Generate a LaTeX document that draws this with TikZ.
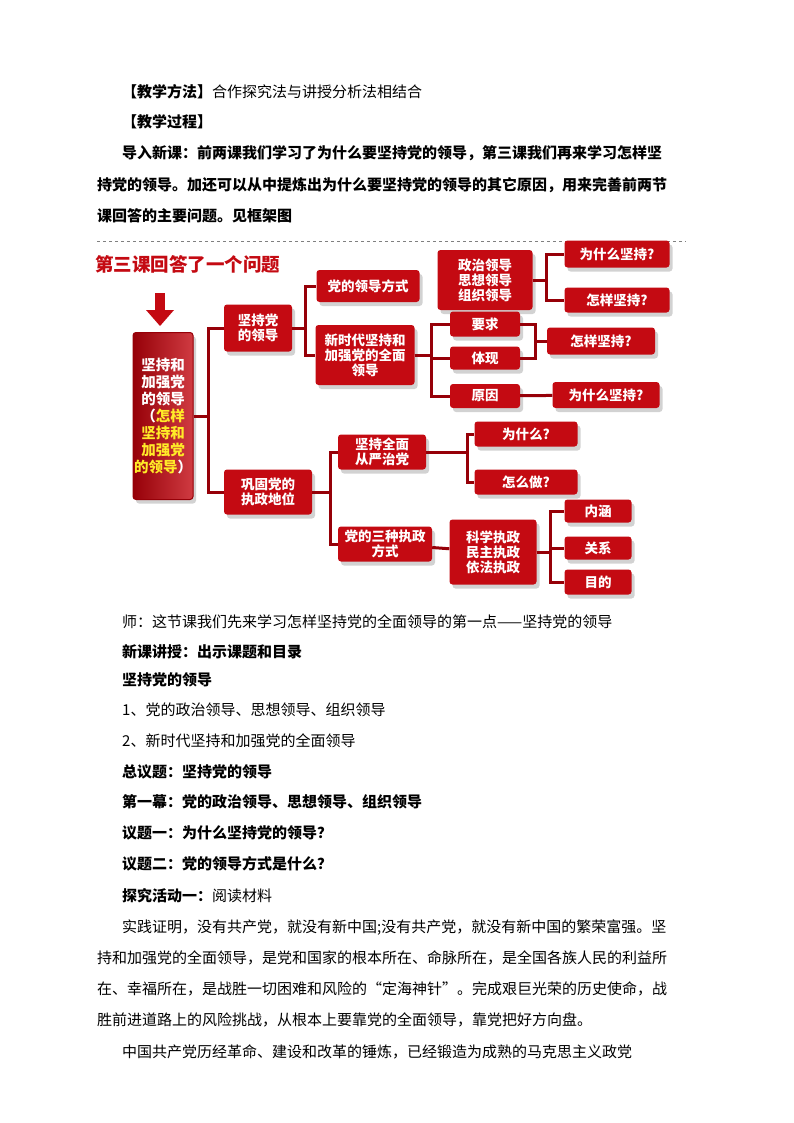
\documentclass[tikz,border=0pt]{standalone}
\usepackage{fontspec}
\setmainfont{Noto Sans CJK SC}
\usetikzlibrary{shadows}
\definecolor{boxred}{RGB}{196,10,18}
\definecolor{brkred}{RGB}{150,0,8}
\definecolor{hlyellow}{RGB}{255,235,40}
\tikzset{
  redbox/.style={fill=boxred, rounded corners=3pt, text=white, align=center,
    font=\fontsize{13.5}{15}\selectfont\bfseries, inner sep=1pt,
    drop shadow={shadow xshift=3pt, shadow yshift=-4pt, opacity=.35}},
  brk/.style={brkred, line width=3pt},
  txt/.style={anchor=west, inner sep=0pt, font=\fontsize{15}{18}\selectfont}
}
\begin{document}
\begin{tikzpicture}[x=1pt,y=-1pt]
\useasboundingbox[fill=white] (0,0) rectangle (794,1123);
% heading
\node[txt] (t1) at (122,92) {\textbf{【教学方法】}合作探究法与讲授分析法相结合};
\node[txt] (t2) at (122,122) {\textbf{【教学过程】}};
\node[txt,font=\fontsize{15}{18}\selectfont\bfseries] (t3) at (122,153) {导入新课：前两课我们学习了为什么要坚持党的领导，第三课我们再来学习怎样坚};
\node[txt,font=\fontsize{15}{18}\selectfont\bfseries] (t4) at (97,185) {持党的领导。加还可以从中提炼出为什么要坚持党的领导的其它原因，用来完善前两节};
\node[txt,font=\fontsize{15}{18}\selectfont\bfseries] (t5) at (97,216) {课回答的主要问题。见框架图};
\draw[gray, dashed] (97,241) -- (686,241);

% framework
\node[text=boxred, font=\fontsize{18.5}{20}\selectfont\bfseries, anchor=west, inner sep=0pt] (title) at (95,264) {第三课回答了一个问题};
\fill[boxred] (155,293) rectangle (165,312);
\fill[boxred] (146,310) -- (174,310) -- (160,326) -- cycle;
\node[redbox, font=\fontsize{14.5}{17}\selectfont\bfseries, minimum width=60pt, minimum height=167pt, draw=brkred, line width=1pt,
  left color=brkred, right color=boxred!80!white] (main) at (163,416)
  {坚持和\\加强党\\的领导\\（{\color{hlyellow}怎样}\\{\color{hlyellow}坚持和}\\{\color{hlyellow}加强党}\\{\color{hlyellow}的领导}）};
\node[redbox, minimum width=68pt, minimum height=47pt] (n1) at (258,328) {坚持党\\的领导};
\node[redbox, minimum width=88pt, minimum height=45pt] (n2) at (268,492) {巩固党的\\执政地位};
\node[redbox, minimum width=103pt, minimum height=32pt] (a1) at (368,286) {党的领导方式};
\node[redbox, minimum width=99pt, minimum height=60pt] (a2) at (365,355) {新时代坚持和\\加强党的全面\\领导};
\node[redbox, minimum width=95pt, minimum height=60pt] (b1) at (485,280) {政治领导\\思想领导\\组织领导};
\node[redbox, minimum width=105pt, minimum height=27pt] (c1) at (617,254) {为什么坚持?};
\node[redbox, minimum width=105pt, minimum height=25pt] (c2) at (617,300) {怎样坚持?};
\node[redbox, minimum width=70pt, minimum height=25pt] (b2) at (485,324) {要求};
\node[redbox, minimum width=70pt, minimum height=23pt] (b3) at (485,358) {体现};
\node[redbox, minimum width=70pt, minimum height=24pt] (b4) at (485,396) {原因};
\node[redbox, minimum width=108pt, minimum height=27pt] (c3) at (601,341) {怎样坚持?};
\node[redbox, minimum width=107pt, minimum height=26pt] (c4) at (606,395) {为什么坚持?};
\node[redbox, minimum width=88pt, minimum height=35pt] (a3) at (382,452) {坚持全面\\从严治党};
\node[redbox, minimum width=103pt, minimum height=25pt] (d1) at (526,434) {为什么?};
\node[redbox, minimum width=103pt, minimum height=25pt] (d2) at (526,482) {怎么做?};
\node[redbox, minimum width=94pt, minimum height=35pt] (a4) at (385,544) {党的三种执政\\方式};
\node[redbox, minimum width=87pt, minimum height=65pt] (b5) at (493,552) {科学执政\\民主执政\\依法执政};
\node[redbox, minimum width=67pt, minimum height=23pt] (e1) at (598,511) {内涵};
\node[redbox, minimum width=67pt, minimum height=23pt] (e2) at (598,548) {关系};
\node[redbox, minimum width=67pt, minimum height=25pt] (e3) at (598,582) {目的};
\coordinate (j1) at (535,341);
\foreach \from/\to/\dx in {main/n1/15,main/n2/15,n1/a1/13,n1/a2/13,n2/a3/18,n2/a4/18,
  a2/b2/17,a2/b3/17,a2/b4/17,b1/c1/14,b1/c2/14,a3/d1/41,a3/d2/41,b5/e1/14,b5/e2/14,b5/e3/14}
  \draw[brk] (\from.east) -- +(\dx,0) |- (\to.west);
\draw[brk] (b2.east) -| (j1);
\draw[brk] (b3.east) -| (j1);
\draw[brk] (j1) -- (c3.west);
\draw[brk] (b4) -- (c4);
\draw[brk] (a4) -- (b5);

% body text
\node[txt] (s1) at (122,622) {师：这节课我们先来学习怎样坚持党的全面领导的第一点——坚持党的领导};
\node[txt] (s2) at (122,652) {\textbf{新课讲授：出示课题和目录}};
\node[txt] (s3) at (122,680) {\textbf{坚持党的领导}};
\node[txt] (s4) at (122,710) {1、党的政治领导、思想领导、组织领导};
\node[txt] (s5) at (122,741) {2、新时代坚持和加强党的全面领导};
\node[txt] (s6) at (122,772) {\textbf{总议题：坚持党的领导}};
\node[txt] (s7) at (122,802) {\textbf{第一幕：党的政治领导、思想领导、组织领导}};
\node[txt] (s8) at (122,833) {\textbf{议题一：为什么坚持党的领导？}};
\node[txt] (s9) at (122,864) {\textbf{议题二：党的领导方式是什么？}};
\node[txt] (s10) at (122,896) {\textbf{探究活动一：}阅读材料};
\node[txt] (s11) at (122,928) {实践证明，没有共产党，就没有新中国;没有共产党，就没有新中国的繁荣富强。坚};
\node[txt] (s12) at (97,958) {持和加强党的全面领导，是党和国家的根本所在、命脉所在，是全国各族人民的利益所};
\node[txt] (s13) at (97,989) {在、幸福所在，是战胜一切困难和风险的“定海神针”。完成艰巨光荣的历史使命，战};
\node[txt] (s14) at (97,1020) {胜前进道路上的风险挑战，从根本上要靠党的全面领导，靠党把好方向盘。};
\node[txt] (s15) at (122,1052) {中国共产党历经革命、建设和改革的锤炼，已经锻造为成熟的马克思主义政党};
\end{tikzpicture}
\end{document}
